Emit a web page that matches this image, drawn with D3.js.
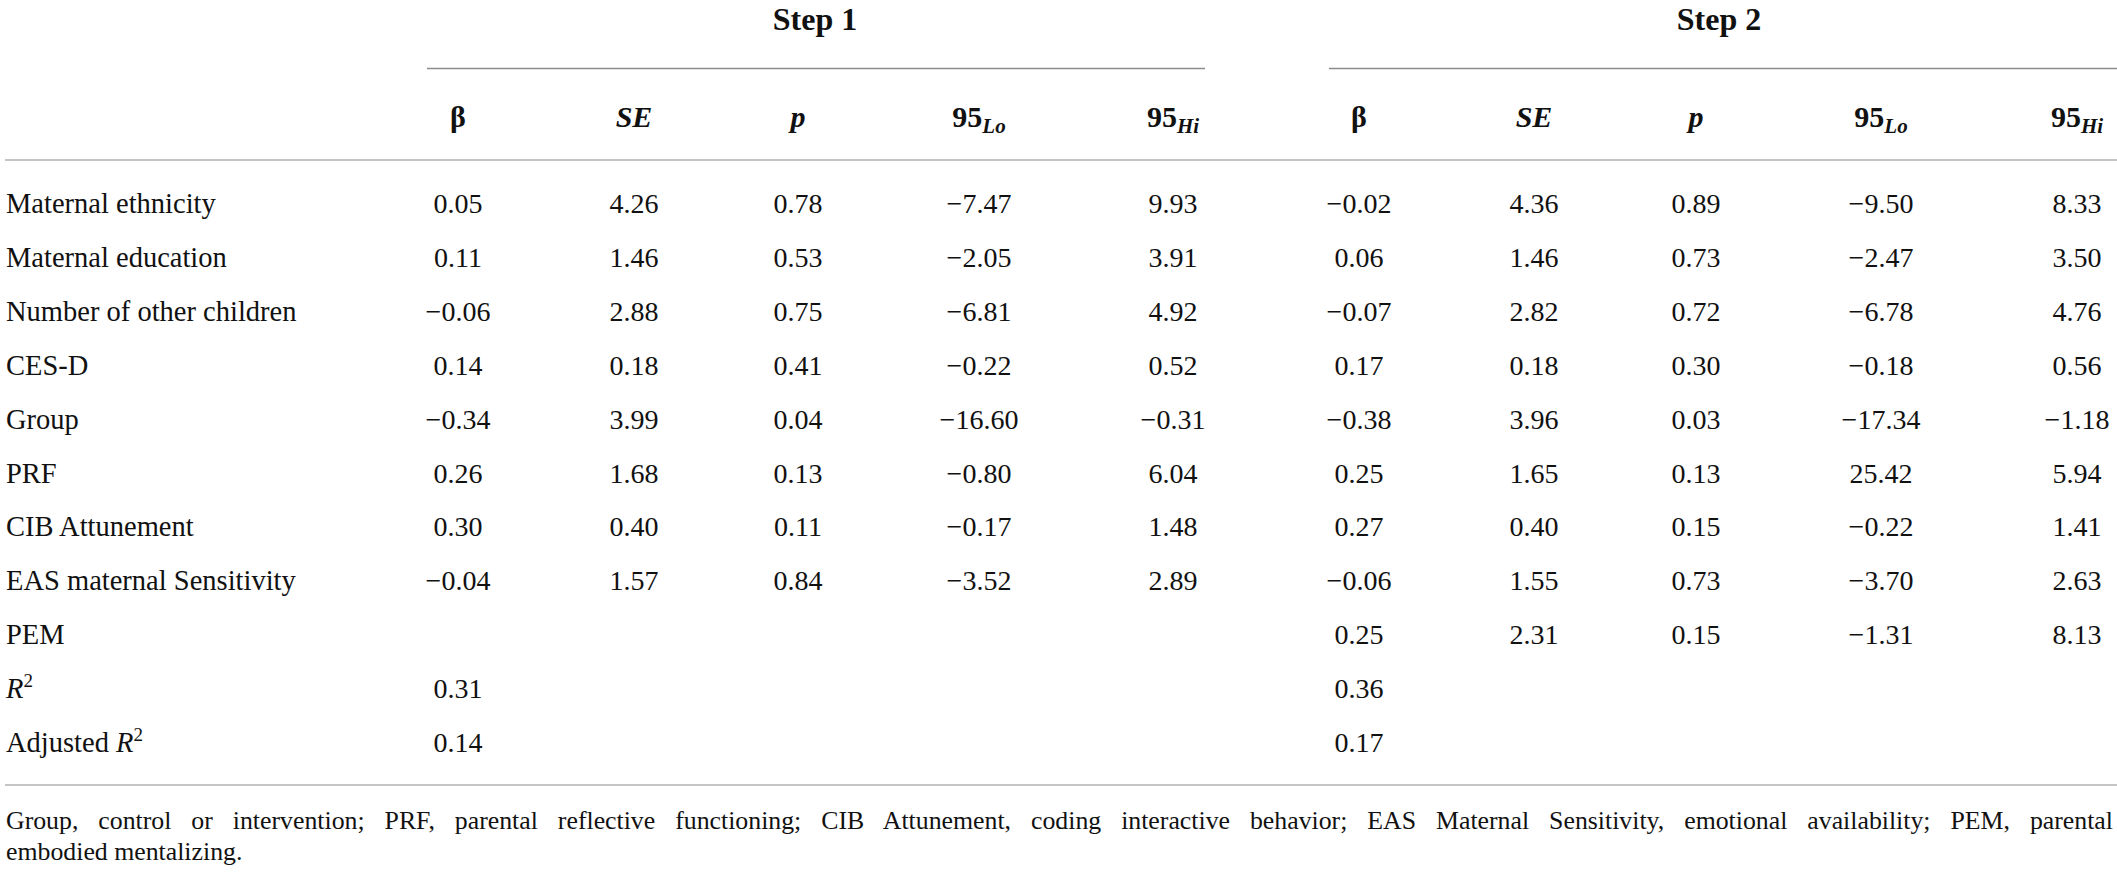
<!DOCTYPE html>
<html>
<head>
<meta charset="utf-8">
<script src="https://cdn.jsdelivr.net/npm/d3@7"></script>
<style>
  html, body { margin: 0; padding: 0; background: #fff; }
  svg { display: block; font-family: "Liberation Serif", "DejaVu Serif", serif; }
</style>
</head>
<body>
<svg id="chart" width="2117" height="876"></svg>
<script>
// table content
const rowLabels = [
	'Maternal ethnicity',
	'Maternal education',
	'Number of other children',
	'CES-D',
	'Group',
	'PRF',
	'CIB Attunement',
	'EAS maternal Sensitivity',
	'PEM',
	'R²',
	'Adjusted R²'
];

const columns = ['β', 'SE', 'p', '95Lo', '95Hi'];
const steps = ['Step 1', 'Step 2'];

// step 1 (null = empty cell)
const beta1 = [0.05, 0.11, -0.06, 0.14, -0.34, 0.26, 0.30, -0.04, null, 0.31, 0.14];
const se1   = [4.26, 1.46, 2.88, 0.18, 3.99, 1.68, 0.40, 1.57, null, null, null];
const p1    = [0.78, 0.53, 0.75, 0.41, 0.04, 0.13, 0.11, 0.84, null, null, null];
const lo1   = [-7.47, -2.05, -6.81, -0.22, -16.60, -0.80, -0.17, -3.52, null, null, null];
const hi1   = [9.93, 3.91, 4.92, 0.52, -0.31, 6.04, 1.48, 2.89, null, null, null];

// step 2
const beta2 = [-0.02, 0.06, -0.07, 0.17, -0.38, 0.25, 0.27, -0.06, 0.25, 0.36, 0.17];
const se2   = [4.36, 1.46, 2.82, 0.18, 3.96, 1.65, 0.40, 1.55, 2.31, null, null];
const p2    = [0.89, 0.73, 0.72, 0.30, 0.03, 0.13, 0.15, 0.73, 0.15, null, null];
const lo2   = [-9.50, -2.47, -6.78, -0.18, -17.34, 25.42, -0.22, -3.70, -1.31, null, null];
const hi2   = [8.33, 3.50, 4.76, 0.56, -1.18, 5.94, 1.41, 2.63, 8.13, null, null];

const footnote = [
	'Group, control or intervention; PRF, parental reflective functioning; CIB Attunement, coding interactive behavior; EAS Maternal Sensitivity, emotional availability; PEM, parental',
	'embodied mentalizing.'
];

const width = 2117;
const height = 876;
const svg = d3.select('#chart');
const fmt = d3.format('.2f');

const stepData = [
	[beta1, se1, p1, lo1, hi1],
	[beta2, se2, p2, lo2, hi2]
];

// column centres per step
const colX = [
	d3.scaleOrdinal().domain(columns).range([458, 634, 798, 979, 1173]),
	d3.scaleOrdinal().domain(columns).range([1359, 1534, 1696, 1881, 2077])
];
const stepX = d3.scaleOrdinal().domain(steps).range([815, 1719]);
const spanX = d3.scaleOrdinal().domain(steps).range([[427, 1205], [1329, width]]);

const y = d3.scalePoint()
	.domain(rowLabels)
	.range([213, 752]);

// rules
svg.selectAll('.spanRule')
	.data(steps)
	.enter()
	.append('line')
	.attr('class', 'spanRule')
	.attr('x1', d => spanX(d)[0])
	.attr('x2', d => spanX(d)[1])
	.attr('y1', 68.5)
	.attr('y2', 68.5)
	.attr('stroke', '#8c8c8c')
	.attr('stroke-width', 1.5);

svg.selectAll('.rule')
	.data([160, 785])
	.enter()
	.append('line')
	.attr('class', 'rule')
	.attr('x1', 5)
	.attr('x2', width)
	.attr('y1', d => d)
	.attr('y2', d => d)
	.attr('stroke', '#c4c4c4')
	.attr('stroke-width', 2);

// step titles
svg.selectAll('.stepTitle')
	.data(steps)
	.enter()
	.append('text')
	.attr('class', 'stepTitle')
	.attr('x', d => stepX(d))
	.attr('y', 30)
	.attr('text-anchor', 'middle')
	.attr('font-size', 32)
	.attr('font-weight', 'bold')
	.attr('fill', '#111')
	.text(d => d);

// column headers
steps.forEach((s, si) => {
	const head = svg.append('g').attr('class', 'head');
	columns.forEach(c => {
		const t = head.append('text')
			.attr('x', colX[si](c))
			.attr('y', 127)
			.attr('text-anchor', 'middle')
			.attr('font-size', 30)
			.attr('font-weight', 'bold')
			.attr('fill', '#111');
		if (c.startsWith('95')) {
			t.append('tspan').text('95');
			t.append('tspan')
				.attr('font-style', 'italic')
				.attr('font-size', 21)
				.attr('dy', 6)
				.text(c.slice(2));
		} else if (c === 'β') {
			t.text(c);
		} else {
			t.attr('font-style', 'italic').text(c);
		}
	});
});

// row labels
const labels = svg.append('g').attr('class', 'labels');
rowLabels.forEach(label => {
	const t = labels.append('text')
		.attr('x', 6)
		.attr('y', y(label))
		.attr('font-size', 28.5)
		.attr('fill', '#111');
	if (label.endsWith('R²')) {
		const prefix = label.slice(0, -2);
		if (prefix) t.append('tspan').text(prefix);
		t.append('tspan').attr('font-style', 'italic').text('R');
		t.append('tspan')
			.attr('font-size', 19)
			.attr('dy', -11)
			.text('2');
	} else {
		t.text(label);
	}
});

// cells
stepData.forEach((cols, si) => {
	const g = svg.append('g').attr('class', `step-${si + 1}`);
	cols.forEach((values, ci) => {
		g.selectAll(`.cell-${ci}`)
			.data(values.map((v, ri) => ({ v, row: rowLabels[ri] })).filter(d => d.v !== null))
			.enter()
			.append('text')
			.attr('class', `cell-${ci}`)
			.attr('x', colX[si](columns[ci]))
			.attr('y', d => y(d.row))
			.attr('text-anchor', 'middle')
			.attr('font-size', 28)
			.attr('fill', '#111')
			.text(d => fmt(d.v));
	});
});

// footnote, first line justified to full width
const note = svg.append('g').attr('class', 'note');
note.selectAll('text')
	.data(footnote)
	.enter()
	.append('text')
	.attr('x', 6)
	.attr('y', (d, i) => 829 + i * 31)
	.attr('font-size', 25.8)
	.attr('fill', '#111')
	.text(d => d);

const first = note.select('text').node();
const gaps = footnote[0].split(' ').length - 1;
const extra = (width - 6 - 4) - first.getComputedTextLength();
if (extra > 0) d3.select(first).attr('word-spacing', extra / gaps);
</script>
</body>
</html>
